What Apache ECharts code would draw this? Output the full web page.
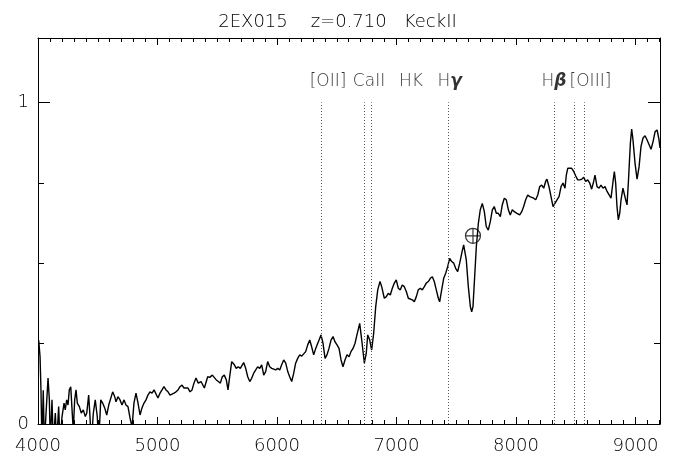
<!DOCTYPE html>
<html>
<head>
<meta charset="utf-8">
<script src="https://cdn.jsdelivr.net/npm/echarts@6/dist/echarts.min.js"></script>
<style>
  html, body { margin: 0; padding: 0; background: #fff; }
  #chart { width: 675px; height: 466px; }
</style>
</head>
<body>
<div id="chart"></div>
<script>
// Observed wavelength (Angstrom) and normalised flux of 2EX015
const wavelength = [
  4006, 4017, 4025, 4033, 4044, 4053, 4084, 4095, 4103, 4117, 4128, 4145, 4156, 4173, 4184,
  4201, 4218, 4228, 4240, 4251, 4262, 4274, 4285, 4295, 4307, 4318, 4329, 4346, 4362, 4379,
  4396, 4408, 4424, 4435, 4446, 4463, 4479, 4496, 4508, 4525, 4541, 4558, 4575, 4592, 4608,
  4625, 4642, 4653, 4669, 4686, 4703, 4720, 4736, 4753, 4770, 4787, 4803, 4820, 4837, 4854,
  4870, 4887, 4904, 4920, 4937, 4954, 4971, 4987, 5004, 5021, 5038, 5054, 5071, 5088, 5105,
  5121, 5138, 5155, 5172, 5188, 5205, 5222, 5238, 5255, 5272, 5289, 5305, 5322, 5341, 5364,
  5392, 5420, 5437, 5459, 5475, 5492, 5509, 5526, 5542, 5559, 5576, 5590, 5604, 5621, 5643,
  5659, 5676, 5693, 5721, 5738, 5755, 5772, 5788, 5805, 5822, 5838, 5855, 5872, 5889, 5905,
  5922, 5939, 5956, 5972, 5989, 6006, 6023, 6039, 6056, 6073, 6090, 6106, 6123, 6140, 6156,
  6173, 6190, 6207, 6223, 6240, 6257, 6274, 6290, 6307, 6324, 6341, 6352, 6368, 6385, 6402,
  6418, 6435, 6452, 6469, 6485, 6502, 6519, 6536, 6552, 6569, 6586, 6603, 6619, 6636, 6653,
  6669, 6692, 6709, 6731, 6747, 6759, 6776, 6792, 6809, 6826, 6843, 6862, 6876, 6898, 6915,
  6931, 6948, 6965, 6982, 6998, 7015, 7032, 7048, 7065, 7082, 7099, 7115, 7132, 7149, 7166,
  7182, 7199, 7216, 7233, 7249, 7266, 7283, 7300, 7316, 7333, 7350, 7361, 7378, 7395, 7412,
  7428, 7445, 7462, 7479, 7495, 7512, 7529, 7546, 7562, 7573, 7584, 7601, 7618, 7629, 7640,
  7651, 7668, 7685, 7701, 7718, 7735, 7751, 7768, 7785, 7802, 7818, 7835, 7852, 7869, 7885,
  7902, 7919, 7936, 7952, 7969, 7986, 8008, 8031, 8048, 8064, 8081, 8098, 8115, 8131, 8148,
  8165, 8182, 8198, 8215, 8232, 8248, 8259, 8276, 8293, 8310, 8326, 8343, 8360, 8377, 8393,
  8410, 8421, 8433, 8449, 8466, 8483, 8500, 8516, 8533, 8550, 8567, 8583, 8600, 8617, 8633,
  8650, 8661, 8678, 8695, 8711, 8728, 8745, 8762, 8778, 8795, 8812, 8823, 8834, 8845, 8856,
  8868, 8879, 8895, 8906, 8918, 8929, 8940, 8957, 8968, 8979, 8996, 9013, 9030, 9046, 9063,
  9080, 9097, 9114, 9130, 9147, 9164, 9181, 9197, 9205
];
const flux = [
  0.260, 0.210, 0.105, -0.06, 0.105, -0.06, 0.143, 0.075, -0.06, 0.075, -0.06, 0.034, -0.06, 0.054, -0.06,
  0.023, 0.065, 0.044, 0.075, 0.059, 0.106, 0.116, 0.044, -0.02, 0.075, 0.106, 0.065, 0.054, 0.034, 0.044,
  0.023, 0.034, 0.090, 0.023, -0.06, 0.034, 0.075, 0.023, -0.06, 0.075, 0.065, 0.050, 0.028, 0.059, 0.054,
  0.100, 0.085, 0.069, 0.085, 0.075, 0.059, 0.075, 0.059, 0.054, 0.019, -0.01, 0.065, 0.096, 0.065, 0.028,
  0.050, 0.065, 0.075, 0.090, 0.100, 0.096, 0.106, 0.112, 0.081, 0.096, 0.106, 0.116, 0.106, 0.100, 0.090,
  0.085, 0.096, 0.100, 0.106, 0.116, 0.121, 0.112, 0.106, 0.112, 0.100, 0.106, 0.127, 0.143, 0.127, 0.132,
  0.112, 0.147, 0.145, 0.152, 0.147, 0.137, 0.132, 0.127, 0.147, 0.152, 0.137, 0.106, 0.147, 0.194, 0.184,
  0.173, 0.178, 0.173, 0.191, 0.173, 0.147, 0.132, 0.142, 0.158, 0.168, 0.178, 0.173, 0.184, 0.152, 0.163,
  0.194, 0.178, 0.173, 0.178, 0.168, 0.173, 0.168, 0.184, 0.199, 0.189, 0.163, 0.147, 0.132, 0.158, 0.189,
  0.204, 0.215, 0.211, 0.215, 0.225, 0.246, 0.261, 0.240, 0.215, 0.235, 0.251, 0.261, 0.277, 0.251, 0.204,
  0.215, 0.235, 0.261, 0.272, 0.256, 0.246, 0.235, 0.199, 0.178, 0.199, 0.215, 0.209, 0.225, 0.235, 0.251,
  0.277, 0.313, 0.261, 0.189, 0.220, 0.277, 0.261, 0.230, 0.282, 0.365, 0.417, 0.443, 0.427, 0.391, 0.396,
  0.406, 0.401, 0.422, 0.438, 0.448, 0.422, 0.417, 0.432, 0.427, 0.412, 0.391, 0.391, 0.386, 0.380, 0.396,
  0.417, 0.422, 0.417, 0.427, 0.438, 0.443, 0.453, 0.458, 0.443, 0.417, 0.391, 0.380, 0.417, 0.453, 0.469,
  0.489, 0.515, 0.505, 0.500, 0.484, 0.474, 0.500, 0.531, 0.557, 0.557, 0.510, 0.427, 0.365, 0.349, 0.365,
  0.438, 0.551, 0.624, 0.666, 0.686, 0.660, 0.614, 0.603, 0.629, 0.666, 0.676, 0.655, 0.655, 0.645, 0.681,
  0.702, 0.697, 0.666, 0.650, 0.666, 0.660, 0.655, 0.650, 0.660, 0.676, 0.697, 0.712, 0.707, 0.712, 0.702,
  0.697, 0.712, 0.738, 0.743, 0.733, 0.754, 0.761, 0.738, 0.707, 0.676, 0.681, 0.697, 0.707, 0.738, 0.749,
  0.733, 0.774, 0.795, 0.800, 0.795, 0.785, 0.771, 0.759, 0.759, 0.761, 0.767, 0.754, 0.759, 0.749, 0.730,
  0.754, 0.774, 0.738, 0.733, 0.743, 0.733, 0.738, 0.723, 0.728, 0.702, 0.754, 0.785, 0.749, 0.676, 0.635,
  0.655, 0.697, 0.733, 0.738, 0.697, 0.681, 0.749, 0.873, 0.917, 0.883, 0.811, 0.761, 0.800, 0.863, 0.889,
  0.896, 0.883, 0.868, 0.854, 0.878, 0.909, 0.914, 0.883, 0.858
];

// Redshifted features: [OII], CaII H & K, Hgamma, Hbeta, [OIII] 4959/5007
const featureLines = [6374, 6731, 6789, 7437, 8318, 8485, 8569];
const featureLabels = ['[OII]', 'CaII', 'HK', 'H{g|γ}', 'H{g|β}', '[OIII]'];
const featureLabelX = [6427, 6770, 7121, 7444, 8318, 8623];
const featureLabelY = 1.064;
const featureLineTop = 1.0;

// Telluric absorption marker
const telluric = [[7640, 0.585]];

const titleText = '2EX015    z=0.710   KeckII';
const xMin = 4000, xMax = 9205, xMajor = 1000, xMinor = 100;
const yMin = 0, yMax = 1.2, yMajor = 1, yMinor = 0.25;

const FONT = 'DejaVu Sans';
const INK = '#000';
const TEXT = '#000';

function xAxisDef(position, interval, tickLen, withLabels, withLine) {
  return {
    type: 'value', position: position, min: xMin, max: xMax, interval: interval,
    axisLine: { show: withLine, onZero: false, lineStyle: { color: INK, width: 1 } },
    axisTick: { show: true, inside: true, length: tickLen, lineStyle: { color: INK, width: 1 } },
    axisLabel: {
      show: withLabels, margin: 13, color: TEXT, fontFamily: FONT, fontSize: 18, fontWeight: 200,
      formatter: v => (v % xMajor === 0 ? String(v) : '')
    },
    splitLine: { show: false }
  };
}
function yAxisDef(position, interval, tickLen, withLabels, withLine) {
  return {
    type: 'value', position: position, min: yMin, max: yMax, interval: interval,
    axisLine: { show: withLine, onZero: false, lineStyle: { color: INK, width: 1 } },
    axisTick: { show: true, inside: true, length: tickLen, lineStyle: { color: INK, width: 1 } },
    axisLabel: {
      show: withLabels, margin: 9, color: TEXT, fontFamily: FONT, fontSize: 18, fontWeight: 200,
      formatter: v => (v === 0 || v === 1 ? String(v) : '')
    },
    splitLine: { show: false }
  };
}

const chart = echarts.init(document.getElementById('chart'), null, { renderer: 'canvas' });

const spectrum = wavelength.map((w, i) => [w, flux[i]]);
const markerLines = featureLines.map(w => [{ coord: [w, yMin] }, { coord: [w, featureLineTop] }]);
const labelPoints = featureLabels.map((t, i) => ({ value: [featureLabelX[i], featureLabelY], name: t }));

const telluricSymbol = 'path://M-1,0 A1,1 0 1,0 1,0 A1,1 0 1,0 -1,0 Z M-1,0 L1,0 M0,-1 L0,1';

chart.setOption({
  animation: false,
  backgroundColor: '#fff',
  title: {
    text: titleText, left: 'center', top: 8,
    textStyle: { fontFamily: FONT, fontSize: 18, fontWeight: 200, color: TEXT }
  },
  grid: { left: 38, right: 15, top: 38, bottom: 42, containLabel: false },
  xAxis: [
    xAxisDef('bottom', xMajor, 7, true, true),
    xAxisDef('bottom', xMinor, 4, false, false),
    xAxisDef('top', xMajor, 7, false, true),
    xAxisDef('top', xMinor, 4, false, false)
  ],
  yAxis: [
    yAxisDef('left', yMajor, 12, true, true),
    yAxisDef('left', yMinor, 6, false, false),
    yAxisDef('right', yMajor, 12, false, true),
    yAxisDef('right', yMinor, 6, false, false)
  ],
  series: [
    {
      type: 'line', data: spectrum, showSymbol: false, clip: true,
      lineStyle: { color: INK, width: 1.4 },
      markLine: {
        silent: true, symbol: 'none', label: { show: false },
        lineStyle: { color: '#555', width: 1, type: [1, 2] },
        data: markerLines
      }
    },
    {
      type: 'scatter', data: labelPoints, symbolSize: 0, silent: true,
      label: {
        show: true, position: 'inside', formatter: p => p.name,
        color: TEXT, fontFamily: FONT, fontSize: 17, fontWeight: 200,
        rich: { g: { fontFamily: FONT, fontSize: 17, fontWeight: 'bold', fontStyle: 'italic', color: TEXT } }
      }
    },
    {
      type: 'scatter', data: telluric, symbol: telluricSymbol, symbolSize: 15, silent: true,
      itemStyle: { color: 'rgba(0,0,0,0)', borderColor: INK, borderWidth: 1.2 }
    }
  ]
});
</script>
</body>
</html>
